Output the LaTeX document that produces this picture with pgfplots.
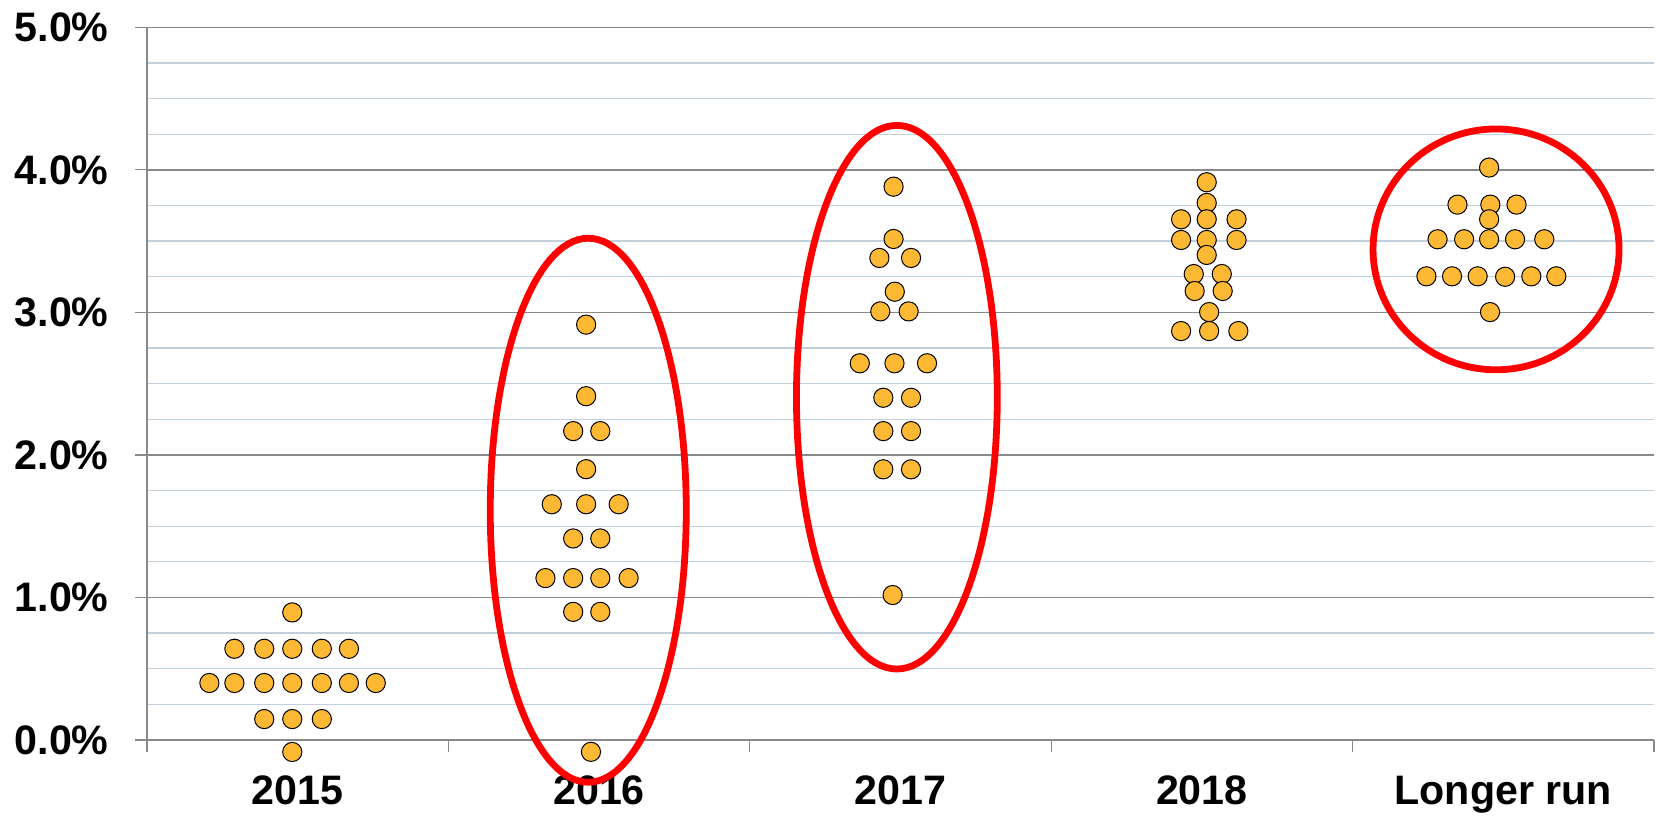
\documentclass[border=0pt]{standalone}
\usepackage{fontspec}
\setmainfont{Liberation Sans}
\usepackage{pgfplots}
\pgfplotsset{compat=1.18}
\definecolor{dotfill}{RGB}{253,185,51}
\definecolor{axgray}{RGB}{137,137,137}
\definecolor{minorgrid}{RGB}{194,208,220}

% dot plot values (x = category + small offset, y = rate in %)
\pgfplotstableread{
x y
-0.018 0.895
-0.210 0.640
-0.111 0.640
-0.018 0.640
0.080 0.640
0.170 0.640
-0.293 0.400
-0.210 0.400
-0.111 0.400
-0.018 0.400
0.080 0.400
0.170 0.400
0.259 0.400
-0.111 0.147
-0.018 0.147
0.080 0.147
-0.018 -0.084
}\yrA
\pgfplotstableread{
x y
0.957 2.914
0.957 2.412
0.914 2.167
1.004 2.167
0.957 1.900
0.843 1.654
0.957 1.654
1.065 1.654
0.914 1.414
1.004 1.414
0.822 1.136
0.914 1.136
1.004 1.136
1.098 1.136
0.914 0.899
1.004 0.899
0.973 -0.083
}\yrB
\pgfplotstableread{
x y
1.977 3.882
1.977 3.515
1.930 3.382
2.035 3.382
1.981 3.145
1.933 3.007
2.027 3.007
1.865 2.643
1.980 2.643
2.088 2.643
1.943 2.401
2.035 2.401
1.943 2.167
2.035 2.167
1.943 1.899
2.035 1.899
1.974 1.017
}\yrC
\pgfplotstableread{
x y
3.016 3.913
3.016 3.768
2.931 3.653
3.016 3.653
3.115 3.653
2.931 3.508
3.016 3.508
3.115 3.508
3.016 3.403
2.973 3.269
3.066 3.269
2.976 3.150
3.069 3.150
3.024 3.002
2.931 2.869
3.024 2.869
3.121 2.869
}\yrD
\pgfplotstableread{
x y
3.953 4.016
3.848 3.756
3.957 3.756
4.044 3.756
3.953 3.653
3.782 3.513
3.870 3.513
3.953 3.513
4.039 3.513
4.136 3.513
3.745 3.253
3.830 3.253
3.915 3.253
4.006 3.250
4.093 3.253
4.176 3.253
3.956 3.002
}\yrE

\begin{document}
\begin{tikzpicture}
\path[use as bounding box] (-73.5pt,-38pt) rectangle (757.5pt,370pt);
\begin{axis}[
    at={(0,0)}, anchor=south west,
    scale only axis, width=753.5pt, height=356.35pt,
    xmin=-0.5, xmax=4.5, ymin=0, ymax=5,
    clip=false,
    axis x line*=bottom, axis y line*=left,
    axis line style={axgray, line width=0.6pt, -},
    tick align=outside,
    major tick length=6pt, minor tick length=0pt,
    tick style={axgray, line width=0.6pt},
    xtick={-0.5,0.5,1.5,2.5,3.5,4.5},
    xticklabels={2015,2016,2017,2018,Longer run,},
    ytick={0,1,2,3,4,5},
    yticklabels={0.0\%,1.0\%,2.0\%,3.0\%,4.0\%,5.0\%},
    minor ytick={0.25,0.5,0.75,1.25,1.5,1.75,2.25,2.5,2.75,3.25,3.5,3.75,4.25,4.5,4.75},
    ymajorgrids, yminorgrids,
    major grid style={axgray, line width=0.7pt},
    minor grid style={minorgrid, line width=0.65pt},
    ticklabel style={font=\fontsize{20.6pt}{24pt}\selectfont\bfseries, inner sep=0pt},
    yticklabel style={anchor=east, xshift=-13pt},
    xticklabel style={anchor=base, xshift=75.35pt, yshift=-26pt},
    dot/.style={only marks, mark=*, mark size=4.8pt,
        mark options={fill=dotfill, draw=black, line width=0.5pt}},
]
\addplot[dot] table[x=x, y=y] {\yrA};
\addplot[dot] table[x=x, y=y] {\yrB};
\addplot[dot] table[x=x, y=y] {\yrC};
\addplot[dot] table[x=x, y=y] {\yrD};
\addplot[dot] table[x=x, y=y] {\yrE};
\coordinate (c16) at (axis cs:0.964,1.612);
\coordinate (c17) at (axis cs:1.988,2.405);
\coordinate (cLR) at (axis cs:3.976,3.442);
\end{axis}
% highlight rings
\draw[red, line width=3.4pt] (c16) ellipse [x radius=49pt, y radius=136pt];
\draw[red, line width=3.4pt] (c17) ellipse [x radius=50.2pt, y radius=135.9pt];
\draw[red, line width=3.4pt] (cLR) ellipse [x radius=61.5pt, y radius=60.2pt];
\end{tikzpicture}
\end{document}
